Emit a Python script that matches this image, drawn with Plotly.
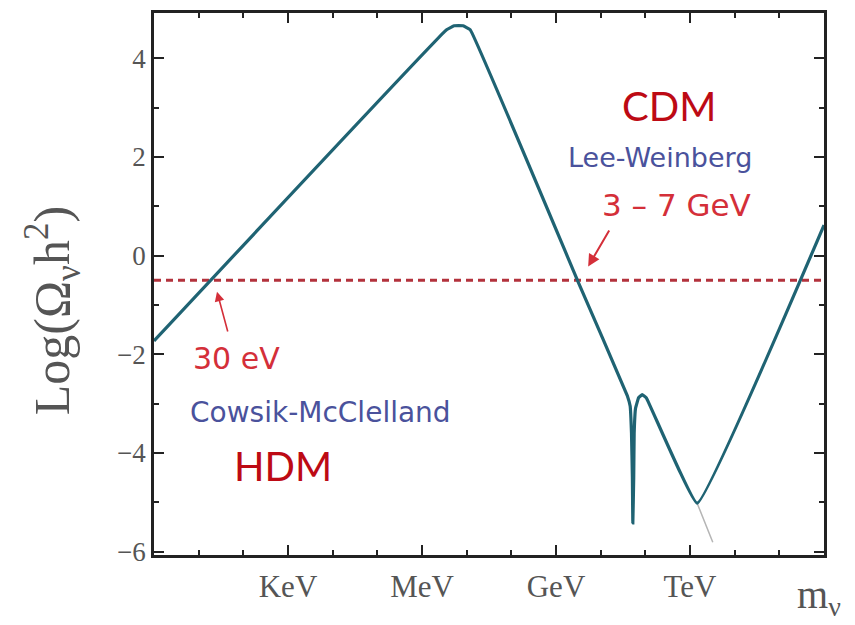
import plotly.graph_objects as go

# Relic neutrino density vs. neutrino mass (log10 of mass in eV on x)
log_mass = [0.0, 6.55, 6.72, 6.92, 7.08, 9.49, 10.60, 10.66, 10.69, 10.71,
            10.72, 10.74, 10.75, 10.78, 10.85, 10.93, 11.02, 12.16, 15.0]
log_omega = [-1.73, 4.58, 4.66, 4.66, 4.58, -0.52, -2.85, -3.05, -3.6, -4.5,
             -5.42, -4.5, -3.6, -3.1, -2.88, -2.82, -2.88, -5.02, 0.62]

# faint continuation below the TeV minimum
tail_mass = [12.16, 12.51]
tail_omega = [-5.02, -5.81]

# observed density bound (horizontal dashed line)
bound_mass = [0.0, 15.0]
bound_omega = [-0.5, -0.5]

mass_ticks = [3, 6, 9, 12]
mass_labels = ["KeV", "MeV", "GeV", "TeV"]
mass_minor = [1, 2, 4, 5, 7, 8, 10, 11, 13, 14]
omega_ticks = [-6, -4, -2, 0, 2, 4]
omega_labels = ["\u22126", "\u22124", "\u22122", "0", "2", "4"]
omega_minor = [-5, -3, -1, 1, 3]

AXIS = "#222222"
TICKTXT = "#555555"
CURVE = "#1f6373"
DARKRED = "#bd0a14"
RED = "#d42f39"
BLUE = "#4a529c"

fig = go.Figure()
fig.add_trace(go.Scatter(x=bound_mass, y=bound_omega, mode="lines",
                         line=dict(color="#b3323c", width=3, dash="7px,5px"),
                         hoverinfo="skip"))
fig.add_trace(go.Scatter(x=tail_mass, y=tail_omega, mode="lines",
                         line=dict(color="#b5b5b5", width=1.5),
                         hoverinfo="skip"))
fig.add_trace(go.Scatter(x=log_mass, y=log_omega, mode="lines",
                         line=dict(color=CURVE, width=3.2, shape="spline", smoothing=0.25),
                         hoverinfo="skip"))

fig.update_xaxes(range=[0, 15], tickmode="array", tickvals=mass_ticks, ticktext=mass_labels,
                 ticks="inside", ticklen=10, tickwidth=2, tickcolor=AXIS,
                 minor=dict(tickmode="array", tickvals=mass_minor, ticks="inside",
                            ticklen=5, tickwidth=2, tickcolor=AXIS),
                 showline=True, linewidth=2.5, linecolor=AXIS, mirror="ticks",
                 showgrid=False, zeroline=False,
                 tickfont=dict(family="Liberation Serif", size=31, color=TICKTXT),
                 ticklabelstandoff=2)
fig.update_yaxes(range=[-6.07, 4.92], tickmode="array", tickvals=omega_ticks,
                 ticktext=omega_labels,
                 ticks="inside", ticklen=10, tickwidth=2, tickcolor=AXIS,
                 minor=dict(tickmode="array", tickvals=omega_minor, ticks="inside",
                            ticklen=5, tickwidth=2, tickcolor=AXIS),
                 showline=True, linewidth=2.5, linecolor=AXIS, mirror="ticks",
                 showgrid=False, zeroline=False,
                 tickfont=dict(family="Liberation Serif", size=27, color=TICKTXT),
                 ticklabelstandoff=0)

annotations = [
    # axis titles
    dict(text="Log(\u03a9<sub>\u03bd</sub>h<sup>2</sup>)", xref="paper", yref="paper",
         x=-0.152, y=0.45, xanchor="center", yanchor="middle", textangle=-90,
         showarrow=False,
         font=dict(family="Liberation Serif", size=50, color=TICKTXT)),
    dict(text="m<sub>\u03bd</sub>", xref="paper", yref="paper",
         x=0.992, y=-0.078, xanchor="center", yanchor="middle", showarrow=False,
         font=dict(family="Liberation Serif", size=40, color=TICKTXT)),
    # region labels
    dict(text="CDM", x=11.53, y=3.04, showarrow=False,
         font=dict(family="Lato", size=40, color=DARKRED)),
    dict(text="Lee-Weinberg", x=11.32, y=1.98, showarrow=False,
         font=dict(family="DejaVu Sans", size=27, color=BLUE)),
    dict(text="3 \u2013 7 GeV", x=11.69, y=1.03, showarrow=False,
         font=dict(family="DejaVu Sans", size=31, color=RED)),
    dict(text="30 eV", x=1.84, y=-2.08, showarrow=False,
         font=dict(family="DejaVu Sans", size=30, color=RED)),
    dict(text="Cowsik-McClelland", x=3.72, y=-3.19, showarrow=False,
         font=dict(family="DejaVu Sans", size=28, color=BLUE)),
    dict(text="HDM", x=2.89, y=-4.27, showarrow=False,
         font=dict(family="Lato", size=40, color=DARKRED)),
    # arrows pointing at the crossings with the density bound
    dict(text="", x=9.72, y=-0.22, ax=10.21, ay=0.54, axref="x", ayref="y",
         showarrow=True, arrowhead=2, arrowsize=1.2, arrowwidth=2, arrowcolor=RED),
    dict(text="", x=1.41, y=-0.73, ax=1.66, ay=-1.57, axref="x", ayref="y",
         showarrow=True, arrowhead=2, arrowsize=1.2, arrowwidth=1.6, arrowcolor=RED),
]

fig.update_layout(width=855, height=625, showlegend=False,
                  margin=dict(l=154, r=31, t=10, b=70),
                  paper_bgcolor="white", plot_bgcolor="white",
                  annotations=annotations)

fig.write_html("out.html")
